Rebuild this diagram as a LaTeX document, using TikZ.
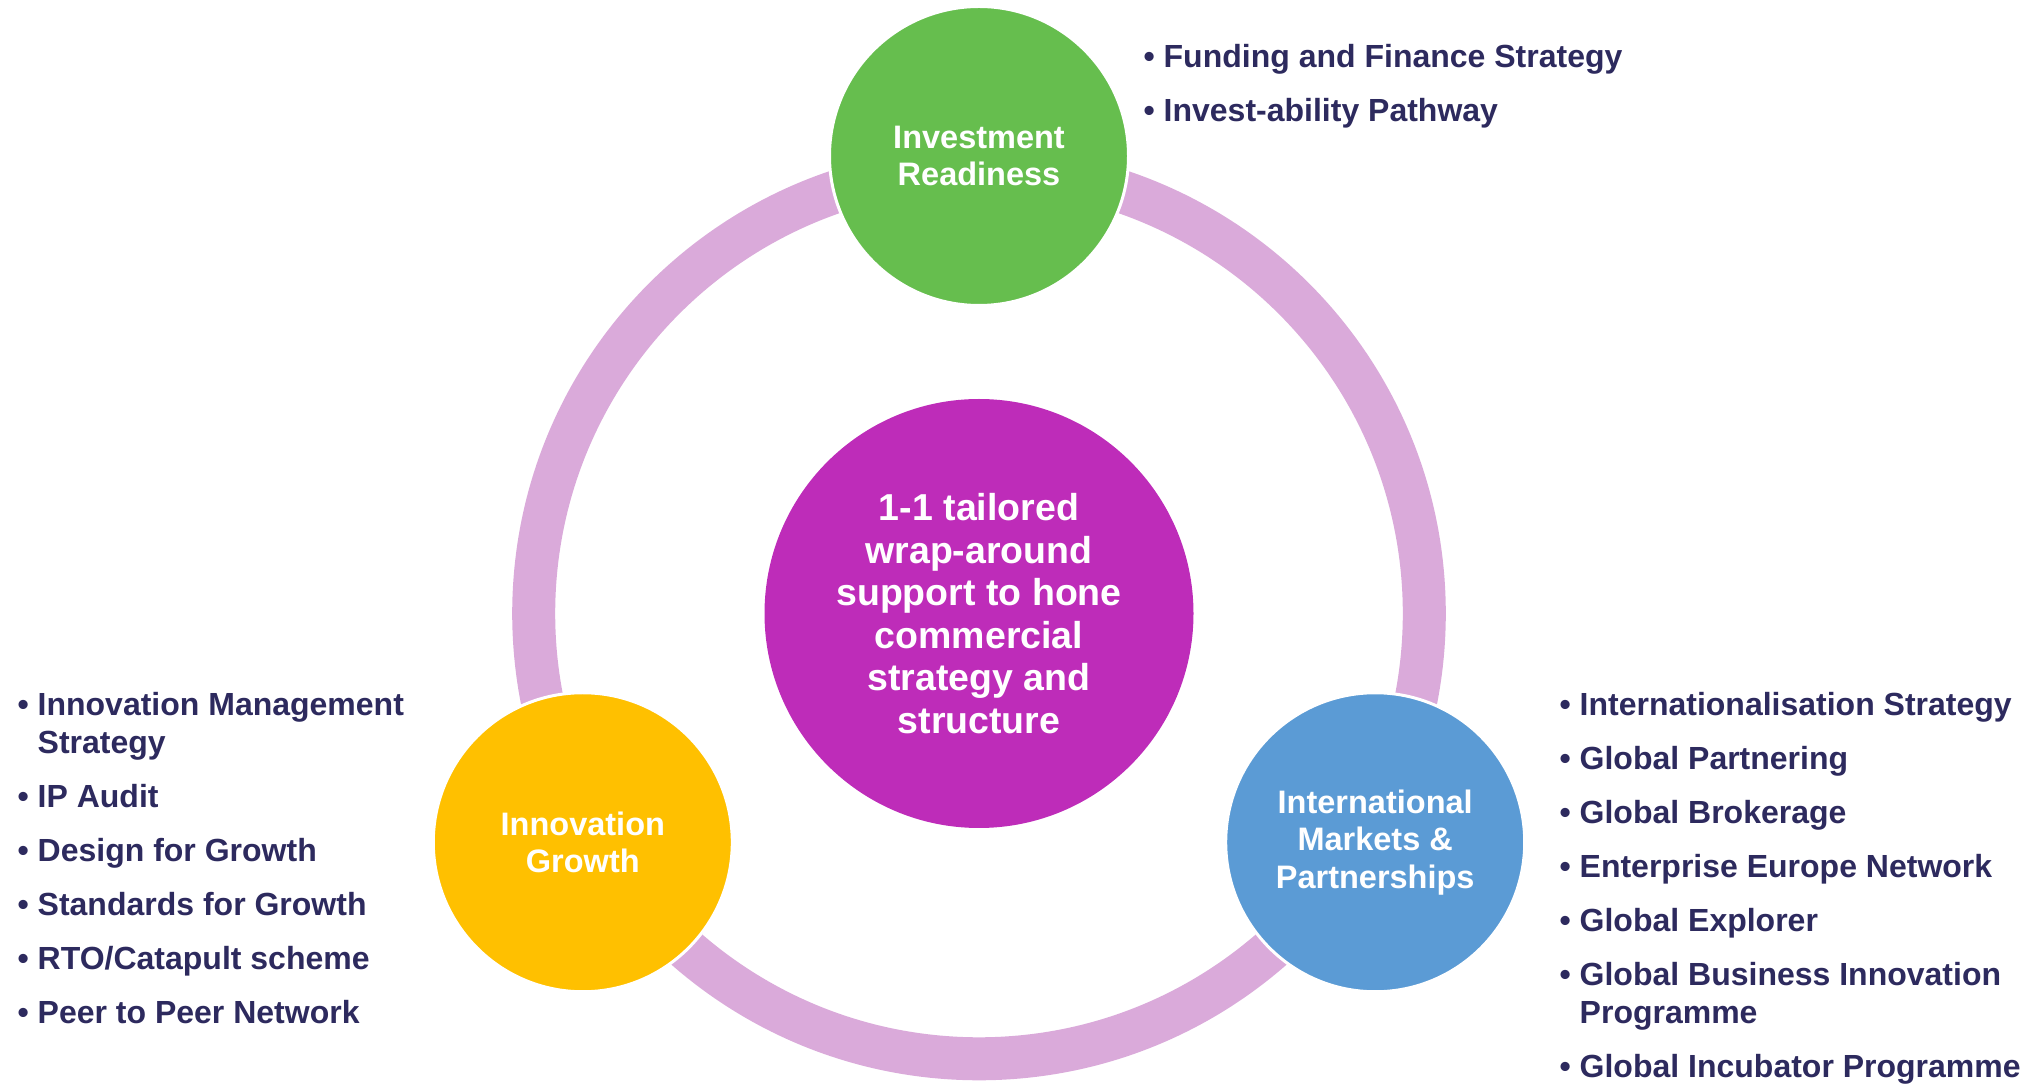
\documentclass[tikz,border=0pt]{standalone}
\usepackage{fontspec}
\setmainfont{Liberation Sans}
\usetikzlibrary{positioning}

\definecolor{ringlilac}{HTML}{DAAADA}
\definecolor{corepurple}{HTML}{BE2CB9}
\definecolor{investgreen}{HTML}{66BE4E}
\definecolor{growthgold}{HTML}{FFC000}
\definecolor{marketblue}{HTML}{5B9BD5}
\definecolor{listnavy}{HTML}{2D2A5E}

\newlength{\bulletw}
\setlength{\bulletw}{20pt}
\newcommand{\bul}{\llap{\makebox[\bulletw][l]{\textbullet}}}

\begin{document}
\begin{tikzpicture}[x=1pt,y=1pt,
  stage/.style={circle,draw=white,line width=3pt,inner sep=0pt,
    minimum size=299pt,text=white,align=center,
    font=\fontsize{32.5}{37.5}\selectfont\bfseries},
  core/.style={circle,fill=corepurple,inner sep=0pt,minimum size=429pt,
    text=white,align=center,font=\fontsize{37.5}{42.5}\selectfont\bfseries},
  offers/.style={text=listnavy,inner sep=0pt,anchor=north west,align=left,
    font=\fontsize{32}{38}\selectfont\bfseries}]
\useasboundingbox (0,0) rectangle (2038,1085);
\coordinate (mid) at (979,471.5);
% ring behind everything
\draw[ringlilac,line width=43pt] (mid) circle[radius=445.3];
\node[core] (hub) at (mid) {1-1 tailored\\wrap-around\\support to hone\\commercial\\strategy and\\structure};
% the three stages on the ring
\node[stage,fill=investgreen] (invest) at ([shift={(90:457.5)}]mid) {Investment\\Readiness};
\node[stage,fill=growthgold] (growth) at ([shift={(210:457.5)}]mid) {Innovation\\Growth};
\node[stage,fill=marketblue] (markets) at ([shift={(-30:457.5)}]mid) {International\\Markets \&\\Partnerships};
% bullet lists
\node[offers] (investlist) at (1163.5,1041) {\bul Funding and Finance Strategy\\[16pt]
  \bul Invest-ability Pathway};
\node[offers] (growthlist) at (37.5,393) {\bul Innovation Management\\Strategy\\[16pt]
  \bul IP Audit\\[16pt]
  \bul Design for Growth\\[16pt]
  \bul Standards for Growth\\[16pt]
  \bul RTO/Catapult scheme\\[16pt]
  \bul Peer to Peer Network};
\node[offers] (marketlist) at (1579.5,393) {\bul Internationalisation Strategy\\[16pt]
  \bul Global Partnering\\[16pt]
  \bul Global Brokerage\\[16pt]
  \bul Enterprise Europe Network\\[16pt]
  \bul Global Explorer\\[16pt]
  \bul Global Business Innovation\\Programme\\[16pt]
  \bul Global Incubator Programme};
\end{tikzpicture}
\end{document}
